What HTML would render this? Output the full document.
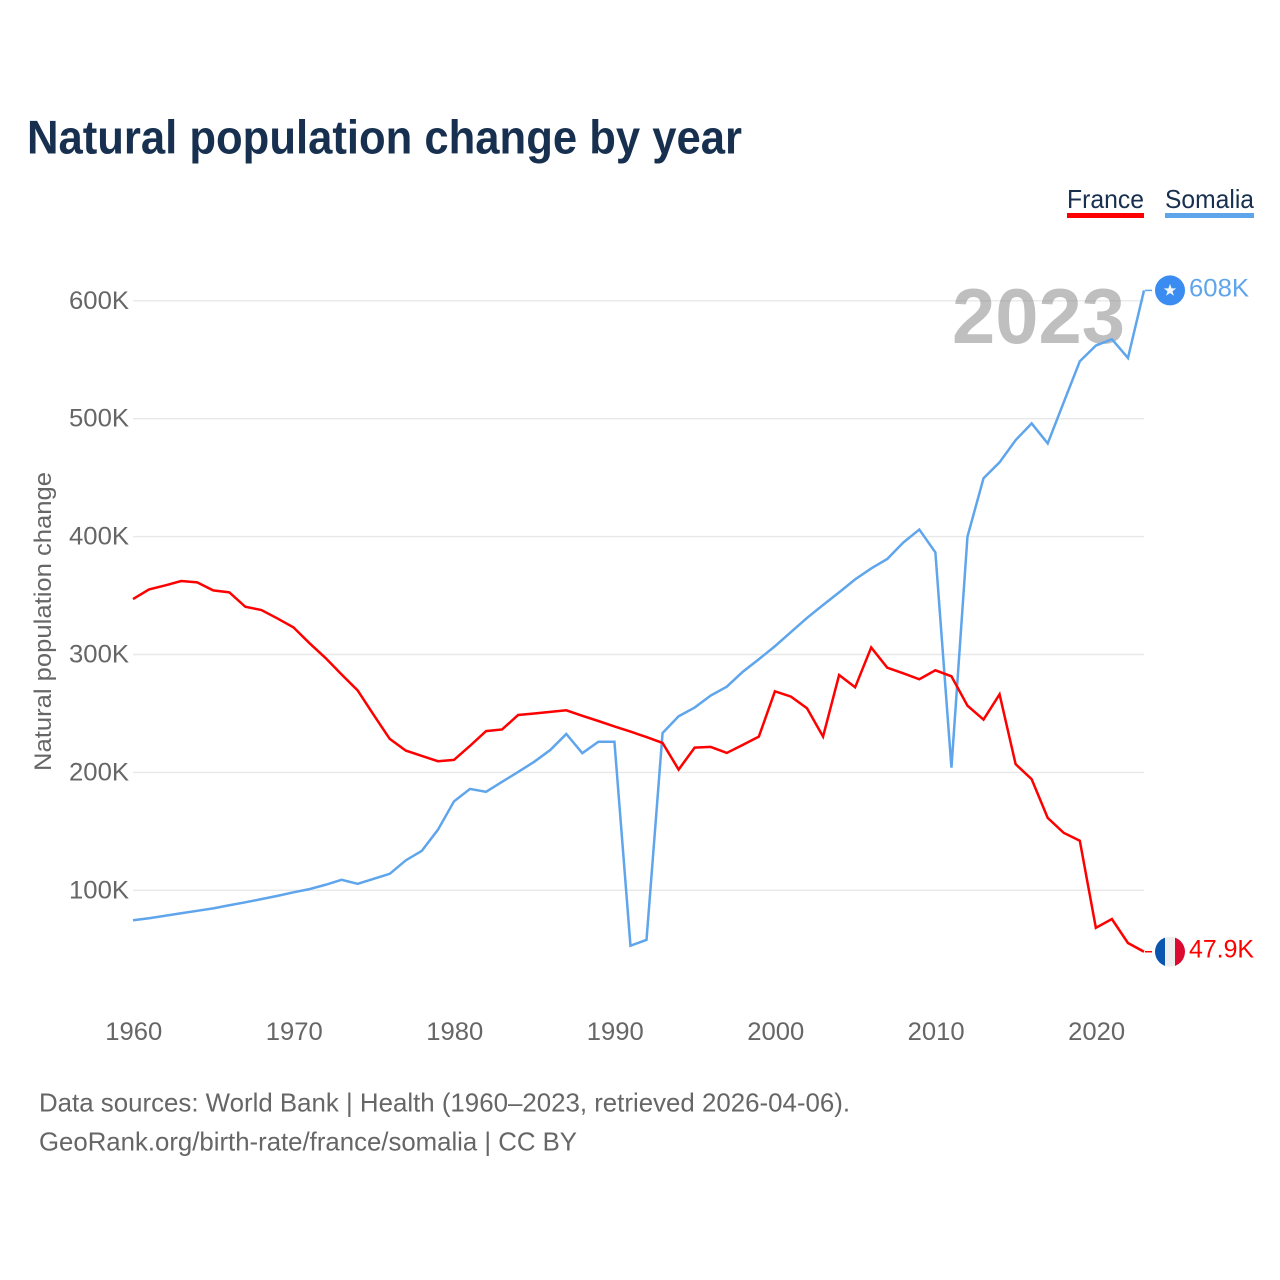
<!DOCTYPE html>
<html lang="en">
<head>
<meta charset="utf-8">
<title>Natural population change by year</title>
<style>
html,body{margin:0;padding:0;background:#fff;}
svg{display:block;font-family:"Liberation Sans",sans-serif;}
</style>
</head>
<body>
<svg id="chart" width="1280" height="1280" viewBox="0 0 1280 1280" xmlns="http://www.w3.org/2000/svg">
  <rect width="1280" height="1280" fill="#ffffff"/>
  <text x="27" y="153.5" font-size="47" font-weight="700" fill="#18304f" textLength="715" lengthAdjust="spacingAndGlyphs">Natural population change by year</text>
  <g id="grid"></g>
  <text x="952" y="343" font-size="78" font-weight="700" fill="#808080" fill-opacity="0.5" textLength="173" lengthAdjust="spacingAndGlyphs">2023</text>
  <g id="yticks"></g>
  <g id="xticks"></g>
  <text transform="translate(51,771) rotate(-90)" x="0" y="0" font-size="24.5" fill="#666666" textLength="299" lengthAdjust="spacingAndGlyphs">Natural population change</text>
  <g id="series"></g>

  <g>
    <text x="1067" y="208" font-size="26" fill="#18304f" textLength="77" lengthAdjust="spacingAndGlyphs">France</text>
    <rect x="1067" y="213" width="77" height="5" fill="#ff0000"/>
  </g>
  <g>
    <text x="1165" y="208" font-size="26" fill="#18304f" textLength="89" lengthAdjust="spacingAndGlyphs">Somalia</text>
    <rect x="1165" y="213" width="89" height="5" fill="#5fa5ec"/>
  </g>

  <g id="markers"></g>

  <text x="39" y="1111.5" font-size="26" fill="#666666" textLength="811" lengthAdjust="spacingAndGlyphs">Data sources: World Bank | Health (1960–2023, retrieved 2026-04-06).</text>
  <text x="39" y="1150.5" font-size="26" fill="#666666" textLength="538" lengthAdjust="spacingAndGlyphs">GeoRank.org/birth-rate/france/somalia | CC BY</text>
</svg>
<script>
var startYear = 1960;
var france = [347,355.2,358.6,362.3,361.2,354.4,352.7,340.5,337.7,330.6,323,309.6,297,283,269.5,248.7,228.4,218.5,214,209.5,210.6,222.5,235,236.4,248.7,250,251.3,252.7,248,243.6,239,234.6,230,225,202.4,221,221.6,216.5,223.3,230.4,268.8,264.3,254.4,230.4,282.6,272.2,306,288.8,284,279,286.6,281.5,256.6,244.8,266.2,207,194.2,161.4,148.7,142,68.2,75.6,55.3,47.9];
var somalia = [74.6,76.3,78.4,80.5,82.6,84.7,87.3,89.8,92.5,95.3,98.3,101,104.7,108.9,105.5,109.7,114,125.4,133.5,151.3,175.4,186,183.5,192,200.4,209,219,232.6,216.3,226,226,53,58,233.4,247.6,255,265.2,272.7,285.4,296,307,319,331,342,352.7,363.7,373,381,395,406,386.6,204,400,449.5,463,481.8,496,479,514,548.7,562,567.4,551.5,608.8];
var yTickValues = [100,200,300,400,500,600];
var yTickLabels = ["100K","200K","300K","400K","500K","600K"];
var xTickYears = [1960,1970,1980,1990,2000,2010,2020];
var franceEndLabel = "47.9K";
var somaliaEndLabel = "608K";

var NS = "http://www.w3.org/2000/svg";
function xScale(year){ return 133 + (year - 1960) * (1011 / 63); }
function yScale(v){ return 1008.2 - v * 1.179; }
function make(tag, parent){ var e = document.createElementNS(NS, tag); parent.appendChild(e); return e; }
function pathFor(values){
  var d = "";
  for (var i = 0; i < values.length; i++){
    d += (i ? "L" : "M") + xScale(startYear + i).toFixed(2) + " " + yScale(values[i]).toFixed(2);
  }
  return d;
}

var grid = document.getElementById("grid");
var yticks = document.getElementById("yticks");
yTickValues.forEach(function(v, i){
  var line = make("line", grid);
  
  
  line.setAttribute("x1", xScale(1960));
  line.setAttribute("x2", xScale(2023));
  line.setAttribute("y1", yScale(v));
  line.setAttribute("y2", yScale(v));
  line.setAttribute("stroke", "#e8e8e8");
  line.setAttribute("stroke-width", "1.4");
  var t = make("text", yticks);
  
  
  t.setAttribute("x", 129);
  t.setAttribute("y", yScale(v) + 8);
  t.setAttribute("text-anchor", "end");
  t.setAttribute("font-size", "25");
  t.setAttribute("fill", "#666666");
  t.setAttribute("textLength", "60");
  t.setAttribute("lengthAdjust", "spacingAndGlyphs");
  t.textContent = yTickLabels[i];
});

var xticks = document.getElementById("xticks");
xTickYears.forEach(function(year){
  var t = make("text", xticks);
  
  
  t.setAttribute("x", xScale(year) + 0.8);
  t.setAttribute("y", 1040);
  t.setAttribute("text-anchor", "middle");
  t.setAttribute("font-size", "25");
  t.setAttribute("fill", "#666666");
  t.setAttribute("textLength", "57");
  t.setAttribute("lengthAdjust", "spacingAndGlyphs");
  t.textContent = String(year);
});

var series = document.getElementById("series");
var somaliaLine = make("path", series);


somaliaLine.setAttribute("d", pathFor(somalia));
somaliaLine.setAttribute("fill", "none");
somaliaLine.setAttribute("stroke", "#5fa5ec");
somaliaLine.setAttribute("stroke-width", "2.5");
var franceLine = make("path", series);


franceLine.setAttribute("d", pathFor(france));
franceLine.setAttribute("fill", "none");
franceLine.setAttribute("stroke", "#ff0000");
franceLine.setAttribute("stroke-width", "2.5");

var markers = document.getElementById("markers");
var lastYear = startYear + france.length - 1;
var endX = xScale(lastYear);
var fy = yScale(france[france.length - 1]);
var sy = yScale(somalia[somalia.length - 1]);

var sStub = make("line", markers);


sStub.setAttribute("x1", endX + 1);
sStub.setAttribute("x2", endX + 8);
sStub.setAttribute("y1", sy);
sStub.setAttribute("y2", sy);
sStub.setAttribute("stroke", "#5fa5ec");
sStub.setAttribute("stroke-width", "1.5");
var fStub = make("line", markers);


fStub.setAttribute("x1", endX + 1);
fStub.setAttribute("x2", endX + 8);
fStub.setAttribute("y1", fy);
fStub.setAttribute("y2", fy);
fStub.setAttribute("stroke", "#ff0000");
fStub.setAttribute("stroke-width", "1.5");

var sIcon = make("g", markers);


sIcon.setAttribute("transform", "translate(" + (endX + 26) + "," + sy + ")");
var sDisc = make("circle", sIcon);


sDisc.setAttribute("r", "15");
sDisc.setAttribute("fill", "#3a8cf0");
var sStar = make("polygon", sIcon);


sStar.setAttribute("points", "0,-6.5 1.6,-2 6.2,-2 2.5,0.8 3.9,5.3 0,2.6 -3.9,5.3 -2.5,0.8 -6.2,-2 -1.6,-2");
sStar.setAttribute("fill", "#f2f5fa");

var fIcon = make("g", markers);


fIcon.setAttribute("transform", "translate(" + (endX + 26) + "," + fy + ")");
var clip = make("clipPath", fIcon);
clip.setAttribute("id", "flag-clip");
var clipCircle = make("circle", clip);
clipCircle.setAttribute("r", "15");
var fBands = make("g", fIcon);


fBands.setAttribute("clip-path", "url(#flag-clip)");
var bandColors = ["#0a55b0", "#eeeeee", "#dc0a30"];
bandColors.forEach(function(c, i){
  var r = make("rect", fBands);
  
  
  r.setAttribute("x", -15 + i * 10);
  r.setAttribute("y", -15);
  r.setAttribute("width", 10);
  r.setAttribute("height", 30);
  r.setAttribute("fill", c);
});

var sLabel = make("text", markers);


sLabel.setAttribute("x", endX + 45);
sLabel.setAttribute("y", sy + 6);
sLabel.setAttribute("font-size", "25");
sLabel.setAttribute("fill", "#5fa5ec");
sLabel.setAttribute("textLength", "60");
sLabel.setAttribute("lengthAdjust", "spacingAndGlyphs");
sLabel.textContent = somaliaEndLabel;

var fLabel = make("text", markers);


fLabel.setAttribute("x", endX + 45);
fLabel.setAttribute("y", fy + 6);
fLabel.setAttribute("font-size", "25");
fLabel.setAttribute("fill", "#ff0000");
fLabel.setAttribute("textLength", "65");
fLabel.setAttribute("lengthAdjust", "spacingAndGlyphs");
fLabel.textContent = franceEndLabel;
</script>
</body>
</html>
